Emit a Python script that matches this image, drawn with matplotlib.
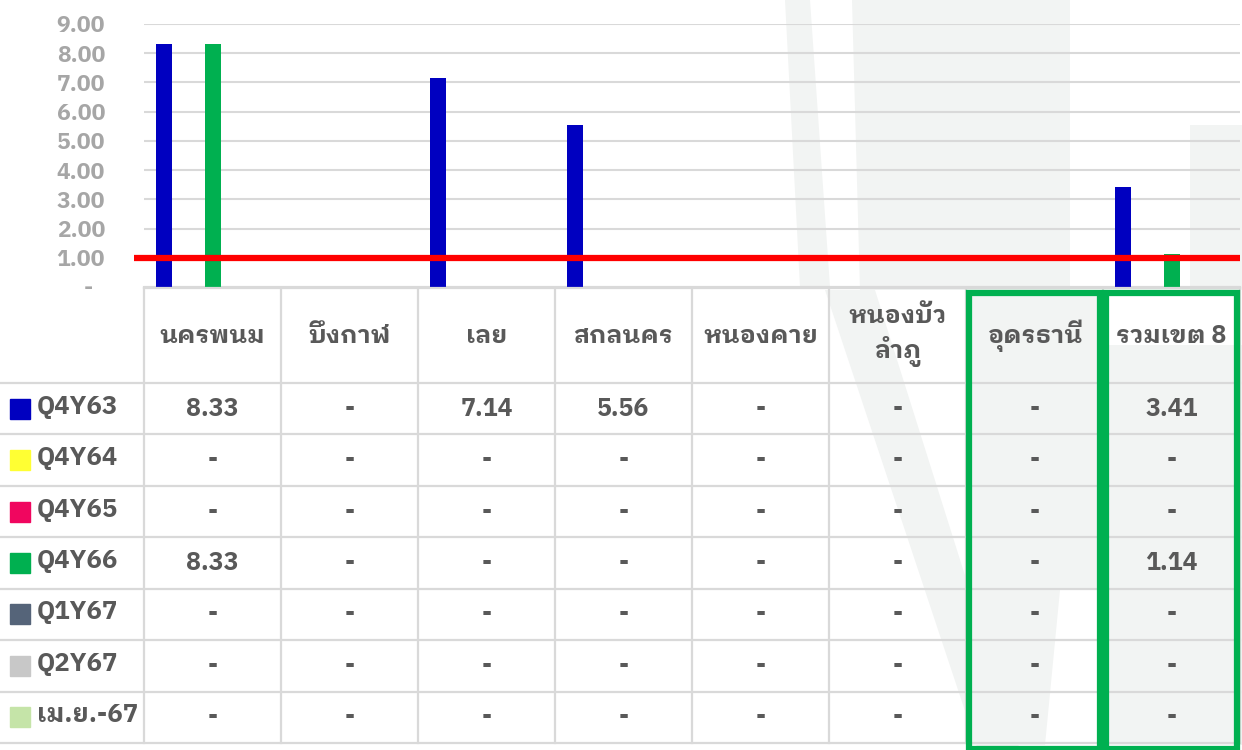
import numpy as np
import matplotlib
matplotlib.use("Agg")
import matplotlib.pyplot as plt
from matplotlib import font_manager
from matplotlib.ft2font import FT2Font
from matplotlib.patches import Rectangle, Polygon

# data
categories = ["นครพนม", "บึงกาฬ", "เลย", "สกลนคร", "หนองคาย", "หนองบัว\nลำภู", "อุดรธานี", "รวมเขต 8"]
series_names = ["Q4Y63", "Q4Y64", "Q4Y65", "Q4Y66", "Q1Y67", "Q2Y67", "เม.ย.-67"]
q4y63 = [8.33, 0, 7.14, 5.56, 0, 0, 0, 3.41]
q4y64 = [0, 0, 0, 0, 0, 0, 0, 0]
q4y65 = [0, 0, 0, 0, 0, 0, 0, 0]
q4y66 = [8.33, 0, 0, 0, 0, 0, 0, 1.14]
q1y67 = [0, 0, 0, 0, 0, 0, 0, 0]
q2y67 = [0, 0, 0, 0, 0, 0, 0, 0]
apr67 = [0, 0, 0, 0, 0, 0, 0, 0]
target = 1.0
y_ticks = [0, 1, 2, 3, 4, 5, 6, 7, 8, 9]
highlight_cols = [6, 7]

series_values = [q4y63, q4y64, q4y65, q4y66, q1y67, q2y67, apr67]
colors = ["#0000C0", "#FFFF33", "#F0065F", "#00B050", "#556479", "#C8C8C8", "#C5E4A8"]

# pick a font file that has Thai glyphs, bold if there is one
def find_thai_font():
    best = None
    for f in font_manager.findSystemFonts():
        try:
            ft = FT2Font(f)
            if 0x0E01 not in ft.get_charmap():
                continue
        except Exception:
            continue
        style = (ft.style_name or "").lower()
        score = 0
        if style == "bold":
            score += 3
        elif "bold" in style and "semi" not in style and "extra" not in style:
            score += 2
        if "sans" in (ft.family_name or "").lower():
            score += 1
        if "condensed" in style or "italic" in style or "oblique" in style:
            score -= 3
        if best is None or score > best[0]:
            best = (score, f)
    return best[1] if best else None

thai_path = find_thai_font()
if thai_path:
    fp = font_manager.FontProperties(fname=thai_path)
else:
    fp = font_manager.FontProperties(family="DejaVu Sans", weight="bold")

W, H = 1242, 750
fig = plt.figure(figsize=(W / 100, H / 100), dpi=100)

def fx(px):
    return px / W

def fy(py):
    return 1 - py / H

# faint watermark in the background (pixel coords)
bg = fig.add_axes([0, 0, 1, 1], zorder=-1)
bg.set_xlim(0, W)
bg.set_ylim(H, 0)
bg.axis("off")
wm = "#F2F4F3"
wm_shapes = [
    [(852, 0), (1070, 0), (1070, 290), (860, 290)],
    [(785, 0), (810, 0), (830, 287), (800, 287)],
    [(1190, 125), (1242, 125), (1242, 290), (1190, 290)],
    [(825, 290), (875, 290), (1020, 750), (978, 750)],
    [(966, 290), (1103, 290), (1103, 590), (1060, 590), (1045, 745), (966, 745)],
    [(1103, 345), (1242, 345), (1242, 745), (1103, 745)],
]
for pts in wm_shapes:
    bg.add_patch(Polygon(pts, closed=True, color=wm, lw=0))

# bar chart area
ax = fig.add_axes([fx(144), fy(287), fx(1240) - fx(144), fy(24) - fy(287)])
n_cat = len(categories)
n_ser = len(series_names)
bw = 0.117
start = 0.091
x = np.arange(n_cat)
for j, (vals, c) in enumerate(zip(series_values, colors)):
    ax.bar(x + start + (j + 0.5) * bw, vals, width=bw, color=c, zorder=3)
ax.plot([-0.07, n_cat], [target, target], color="#FF0000", lw=4.5, zorder=4,
        clip_on=False, solid_capstyle="butt")
ax.set_xlim(0, n_cat)
ax.set_ylim(0, 9)
ax.set_yticks(y_ticks)
# the zero label is drawn separately so it can sit a bit to the left
ax.set_yticklabels(["" if t == 0 else f"{t:.2f}" for t in y_ticks],
                   fontproperties=fp, fontsize=16.5, color="#A6A6A6")
ax.annotate("-", xy=(0, 0), xycoords=("axes fraction", "data"),
            xytext=(-56, 0), textcoords="offset pixels", ha="center", va="center",
            fontproperties=fp, fontsize=16.5, color="#A6A6A6", annotation_clip=False)
ax.tick_params(axis="y", length=0, pad=28)
ax.set_xticks([])
ax.grid(axis="y", color="#D9D9D9", lw=1.5, zorder=0)
for s in ["top", "right", "left"]:
    ax.spines[s].set_visible(False)
ax.spines["bottom"].set_color("#D9D9D9")
ax.spines["bottom"].set_linewidth(1.5)
ax.patch.set_alpha(0)

# data table
label_w = 144 / 137
tax = fig.add_axes([0, fy(743), fx(1240), fy(288) - fy(743)])
header_h = 95
row_h = 51.4
total_h = header_h + n_ser * row_h
tax.set_xlim(-label_w, n_cat)
tax.set_ylim(total_h, 0)
tax.axis("off")

line_c = "#D9D9D9"
ys = [0, header_h] + [header_h + (k + 1) * row_h for k in range(n_ser)]
for k, yy in enumerate(ys):
    x0 = 0 if k == 0 else -label_w
    tax.plot([x0, n_cat], [yy, yy], color=line_c, lw=1.6, clip_on=False)
for i in range(n_cat + 1):
    tax.plot([i, i], [0, total_h], color=line_c, lw=1.6, clip_on=False)

txt_c = "#595959"
fs = 18
for i, cat in enumerate(categories):
    tax.text(i + 0.5, header_h / 2, cat, ha="center", va="center",
             fontproperties=fp, fontsize=fs, color=txt_c, linespacing=1.35)

for j, (name, vals, c) in enumerate(zip(series_names, series_values, colors)):
    yc = header_h + (j + 0.5) * row_h
    tax.add_patch(Rectangle((-label_w + 10 / 137, yc - 10), 20 / 137, 20,
                            color=c, clip_on=False))
    tax.text(-label_w + 37 / 137, yc - 2, name, ha="left", va="center",
             fontproperties=fp, fontsize=fs + 0.5, color=txt_c)
    for i, v in enumerate(vals):
        tax.text(i + 0.5, yc, "-" if v == 0 else f"{v:.2f}", ha="center", va="center",
                 fontproperties=fp, fontsize=fs, color=txt_c)

# green highlight boxes
for i in highlight_cols:
    tax.add_patch(Rectangle((i + 0.02, 5), 0.955, total_h + 1, fill=False,
                            ec="#00B050", lw=4.5, clip_on=False, zorder=5))

fig.savefig("out.png", dpi=100)
